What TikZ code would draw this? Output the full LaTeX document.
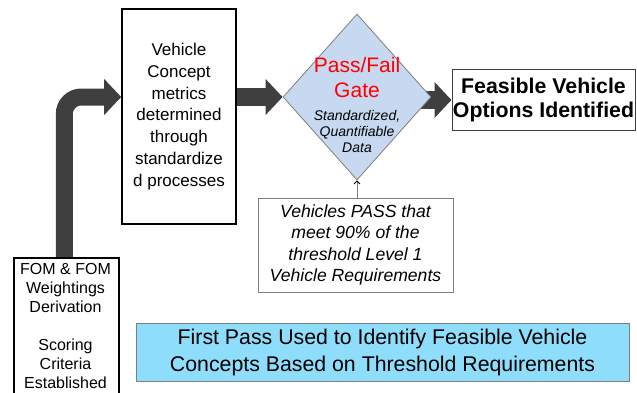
\documentclass[tikz,border=0pt]{standalone}
\usepackage{fontspec}
\setmainfont{Liberation Sans}
\usetikzlibrary{shapes.geometric,arrows.meta}
\pgfdeclarelayer{bg}
\pgfsetlayers{bg,main}
\definecolor{arrowgray}{HTML}{3F3F3F}
\definecolor{gatefill}{HTML}{C6D9F1}
\definecolor{bannerfill}{HTML}{8EDDFA}
\definecolor{framegray}{HTML}{7F7F7F}
\begin{document}
\begin{tikzpicture}[x=1pt,y=-1pt,
  blackbox/.style={draw=black, line width=1.6pt, inner sep=0pt, align=center},
  thinbox/.style={draw=framegray, line width=0.8pt, inner sep=0pt, align=center},
  fatarrow/.style={draw=arrowgray, line width=18pt,
    -{Triangle[length=17pt,width=35pt,fill=arrowgray]}},
  thinarrow/.style={draw=framegray, line width=0.8pt,
    -{Straight Barb[length=3pt,width=6pt,black]}}]
\useasboundingbox (0,0) rectangle (637,392);

% process box
\node[blackbox, minimum width=114pt, minimum height=215pt,
      font=\fontsize{17}{21.7}\selectfont] (vbox) at (179,116.5)
  {Vehicle\\Concept\\metrics\\determined\\through\\standardize\\d processes};

% FOM box, running off the bottom edge
\node[blackbox, anchor=north west, minimum width=105pt, minimum height=150pt]
  (fombox) at (13,257) {};
\node[align=center, font=\fontsize{16}{19}\selectfont] (fomtext) at (65.5,325.5)
  {FOM \& FOM\\Weightings\\Derivation\\[19pt]Scoring\\Criteria\\Established};

% decision gate
\node[diamond, draw=framegray, fill=gatefill, line width=0.8pt, inner sep=0pt,
      minimum width=148pt, minimum height=166pt] (gate) at (357,97) {};
\node[text=red, align=center, font=\fontsize{21}{25}\selectfont] (gatetitle)
  at (357,77.5) {Pass/Fail\\Gate};
\node[align=center, font=\itshape\fontsize{14}{16}\selectfont] (gatedata)
  at (357,131) {Standardized,\\Quantifiable\\Data};

% outcome
\node[draw=arrowgray, line width=1pt, inner sep=0pt, align=center,
      minimum width=183pt, minimum height=61pt,
      font=\bfseries\fontsize{21.3}{24}\selectfont] (feas) at (543.5,100)
  {Feasible Vehicle\\Options Identified};

% pass criterion
\node[thinbox, minimum width=195pt, minimum height=94pt,
      font=\itshape\fontsize{17.6}{21.5}\selectfont] (note) at (355.5,245)
  {Vehicles PASS that\\meet 90\% of the\\threshold Level 1\\Vehicle Requirements};

% banner
\node[thinbox, fill=bannerfill, minimum width=493pt, minimum height=58pt,
      font=\fontsize{21.3}{27}\selectfont] (banner) at (382.5,352)
  {First Pass Used to Identify Feasible Vehicle\\Concepts Based on Threshold Requirements};

% block arrows behind the shapes
\begin{pgfonlayer}{bg}
  \draw[fatarrow, line width=17pt, rounded corners=17pt]
    ([xshift=-2pt]fombox.north) |- (vbox.west |- gate.west);
  \draw[fatarrow] (vbox.east |- gate.west) -- (gate.west);
  \draw[fatarrow] (gate.center |- feas.west) -- (feas.west);
\end{pgfonlayer}

\draw[thinarrow] (note.north -| gate.south) -- (gate.south);
\end{tikzpicture}
\end{document}
